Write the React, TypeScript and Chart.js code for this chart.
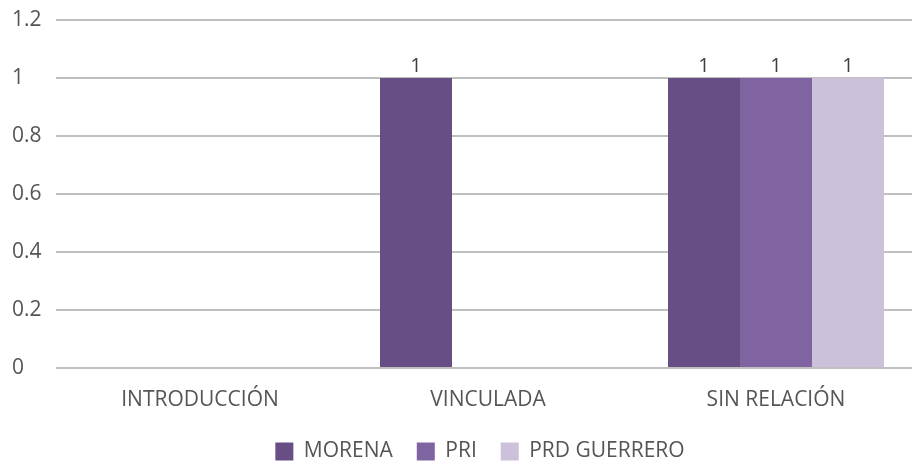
import React, { useEffect, useRef } from "react";
import { Chart, registerables } from "chart.js";

Chart.register(...registerables);

const categories = ["INTRODUCCIÓN", "VINCULADA", "SIN RELACIÓN"];
const seriesNames = ["MORENA", "PRI", "PRD GUERRERO"];
const morena = [0, 1, 1];
const pri = [0, 0, 1];
const prdGuerrero = [0, 0, 1];
const seriesColors = ["#674f86", "#8064a2", "#ccc1da"];
const yTicks = [0, 0.2, 0.4, 0.6, 0.8, 1, 1.2];

const FONT = "'Open Sans', 'Noto Sans', sans-serif";
const TEXT = "#555555";

const valueLabels = {
  id: "valueLabels",
  afterDatasetsDraw(chart: any) {
    const ctx = chart.ctx;
    ctx.save();
    ctx.font = `20px ${FONT}`;
    ctx.fillStyle = "#404040";
    ctx.textAlign = "center";
    ctx.textBaseline = "bottom";
    chart.data.datasets.forEach((ds: any, i: number) => {
      const meta = chart.getDatasetMeta(i);
      meta.data.forEach((bar: any, j: number) => {
        const v = ds.data[j];
        if (v) ctx.fillText(String(v), bar.x, bar.y - 2);
      });
    });
    ctx.restore();
  },
};

const whiteBg = {
  id: "whiteBg",
  beforeDraw(chart: any) {
    const ctx = chart.ctx;
    ctx.save();
    ctx.fillStyle = "#ffffff";
    ctx.fillRect(0, 0, chart.width, chart.height);
    ctx.restore();
  },
};

const legendShift = {
  id: "legendShift",
  afterLayout(chart: any) {
    if (chart.legend) {
      chart.legend.left += 14;
      chart.legend.right += 14;
    }
  },
};

export default function App() {
  const ref = useRef<HTMLCanvasElement>(null);
  useEffect(() => {
    if (!ref.current) return;
    const data = [morena, pri, prdGuerrero];
    const chart = new Chart(ref.current, {
      type: "bar",
      data: {
        labels: categories,
        datasets: seriesNames.map((name, i) => ({
          label: name,
          data: data[i],
          backgroundColor: seriesColors[i],
          borderWidth: 0,
          categoryPercentage: 0.75,
          barPercentage: 1,
        })),
      },
      options: {
        responsive: false,
        animation: false,
        layout: { padding: { left: 12, right: 0, top: 20, bottom: 0 } },
        scales: {
          x: {
            grid: { display: false },
            border: { display: false },
            ticks: {
              color: TEXT,
              font: { family: FONT, size: 21 },
              padding: 11,
            },
            afterFit: (axis: any) => {
              axis.height = 49;
            },
          },
          y: {
            min: 0,
            max: 1.2,
            afterBuildTicks: (axis: any) => {
              axis.ticks = yTicks.map((v) => ({ value: v }));
            },
            afterFit: (axis: any) => {
              axis.width = 44;
            },
            grid: { color: "#bfbfbf", lineWidth: 2, drawTicks: false },
            border: { display: false },
            ticks: {
              color: TEXT,
              font: { family: FONT, size: 21 },
              crossAlign: "far",
              padding: 0,
              callback: (v: any) => String(Math.round(Number(v) * 10) / 10),
            },
          },
        },
        plugins: {
          legend: {
            position: "bottom",
            labels: {
              color: TEXT,
              font: { family: FONT, size: 21 },
              boxWidth: 18,
              boxHeight: 18,
              padding: 24,
            },
          },
          tooltip: { enabled: false },
        },
      },
      plugins: [whiteBg, valueLabels, legendShift],
    });
    return () => chart.destroy();
  }, []);
  return (
    <div style={{ position: "absolute", left: 0, top: 0, width: 912, height: 462, overflow: "hidden", background: "#fff" }}>
      <canvas ref={ref} width={920} height={472} style={{ display: "block" }} />
    </div>
  );
}
